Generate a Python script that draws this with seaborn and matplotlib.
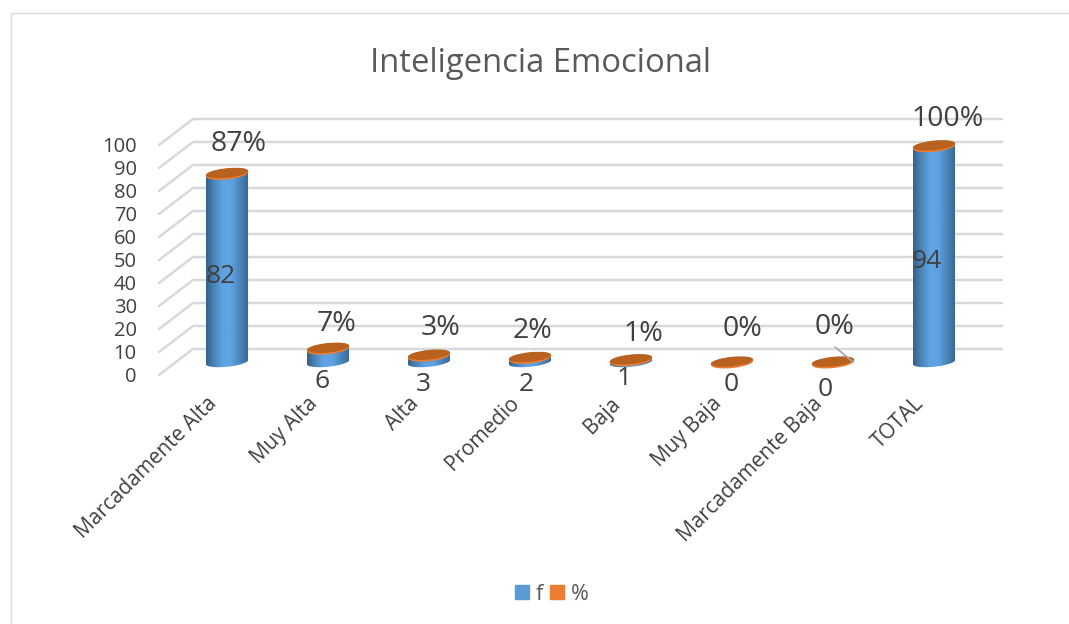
import numpy as np
import pandas as pd
import seaborn as sns
import matplotlib.pyplot as plt
from matplotlib.colors import LinearSegmentedColormap
from matplotlib.patches import Ellipse, Patch, Polygon, Rectangle
from matplotlib.transforms import IdentityTransform, ScaledTranslation

categorias = ['Marcadamente Alta', 'Muy Alta', 'Alta', 'Promedio', 'Baja',
              'Muy Baja', 'Marcadamente Baja', 'TOTAL']
f_vals = [82, 6, 3, 2, 1, 0, 0, 94]
pct_vals = [87, 7, 3, 2, 1, 0, 0, 100]
y_ticks = [0, 10, 20, 30, 40, 50, 60, 70, 80, 90, 100]

# label offsets in pixels, from the top of each cylinder
f_off = [(-6, -103), (-6, -33), (-6, -29), (-4, -27), (-7, -19), (-1, -22), (-8, -27), (-7, -116)]
pct_off = [(12, 29), (9, 24), (12, 27), (3, 26), (12, 26), (11, 33), (2, 35), (14, 27)]

W, H = 1069, 624
DEPTH = 5.65   # floor depth, in y units
px_x = 101.0   # pixels per category
px_y = 2.3     # pixels per y unit

sns.set_theme(style='white')
plt.rcParams['font.family'] = ['Open Sans', 'DejaVu Sans']
TXT = '#404040'

fig = plt.figure(figsize=(W / 100, H / 100), dpi=100)
fig.patches.append(Rectangle((11 / W, -0.01), 1.1, (H - 13) / H + 0.01, transform=fig.transFigure,
                             fc='none', ec='#D9D9D9', lw=1))
ax = fig.add_axes([159 / W, (H - 375) / H, 843 / W, 256 / H])

df = pd.DataFrame({'cat': categorias, 'f': f_vals})
sns.barplot(data=df, x='cat', y='f', color='#5B9BD5', width=42 / px_x, saturation=1, ax=ax, zorder=3)

xmin, xmax = (159 - 227) / px_x, (1002 - 227) / px_x
ax.set_xlim(xmin, xmax)
ax.set_ylim(-DEPTH, 105.65)
xback = xmin + 34 / px_x
for t in y_ticks:
    ax.plot([xmin, xback, xmax], [t - DEPTH, t + DEPTH, t + DEPTH], color='#D9D9D9', lw=1.8,
            zorder=1, clip_on=False, solid_joinstyle='miter')

ax.set_yticks([t - DEPTH for t in y_ticks], [str(t) for t in y_ticks])
ax.tick_params(axis='y', length=0, pad=16, labelsize=14.5, labelcolor=TXT)
ax.set_xticks(range(len(categorias)), categorias)
ax.tick_params(axis='x', length=0, pad=13, labelsize=15, labelcolor=TXT)
plt.setp(ax.get_xticklabels(), rotation=45, ha='right', rotation_mode='anchor')
shift = ScaledTranslation(-21 / 100, 0, fig.dpi_scale_trans)
for lab in ax.get_xticklabels():
    lab.set_transform(lab.get_transform() + shift)
ax.set_xlabel('')
ax.set_ylabel('')
sns.despine(ax=ax, left=True, bottom=True)

ramp = LinearSegmentedColormap.from_list('cyl', ['#35618A', '#4C87BD', '#5FA3E2', '#5FA3E2', '#4C87BD', '#3A6A96'])
grad = np.linspace(0, 1, 64).reshape(1, -1)
EW, EH, ANG = 42.5, 9.5, 6
th = np.linspace(0, np.pi, 60)
a = np.radians(ANG)


def half(cx, cy, t):
    ex, ey = EW / 2 * np.cos(t), EH / 2 * np.sin(t)
    return cx + ex * np.cos(a) - ey * np.sin(a), cy + ex * np.sin(a) + ey * np.cos(a)


for i, (bar, v) in enumerate(zip(ax.patches, f_vals)):
    xb, yb = ax.transData.transform((i, 0))
    xt, yt = ax.transData.transform((i, v))
    top_x, top_y = half(xt, yt, th)
    bot_x, bot_y = half(xb, yb, th + np.pi)
    shape = Polygon(np.column_stack([np.r_[top_x, bot_x], np.r_[top_y, bot_y]]),
                    transform=IdentityTransform(), fc='none', ec='none')
    ax.add_patch(shape)
    bar.set_clip_path(shape)
    x0 = bar.get_x()
    im = ax.imshow(grad, cmap=ramp, aspect='auto', zorder=3.5,
                   extent=(x0, x0 + bar.get_width(), -6, v + 6))
    im.set_clip_path(shape)
    ax.add_patch(Ellipse((xt, yt - 0.8), EW, EH + 1, angle=ANG, transform=IdentityTransform(),
                         fc='#ED7D31', ec='none', zorder=4, clip_on=False))
    ax.add_patch(Ellipse((xt, yt + 0.4), EW, EH, angle=ANG, transform=IdentityTransform(),
                         fc='#B9611F', ec='none', zorder=4.5, clip_on=False))
    ax.annotate(str(v), (i, v), xytext=f_off[i], textcoords='offset pixels', ha='center', va='center',
                fontsize=19, color=TXT, zorder=6, annotation_clip=False)
    ax.annotate(f'{pct_vals[i]}%', (i, v), xytext=pct_off[i], textcoords='offset pixels', ha='center',
                va='center', fontsize=20.5, color=TXT, zorder=6, annotation_clip=False)

ax.set_xlim(xmin, xmax)
ax.set_ylim(-DEPTH, 105.65)

# leader line of the last 0 %
ax.annotate('', (6 + 20 / px_x, 0), xytext=(-18, 15), textcoords='offset pixels',
            arrowprops=dict(arrowstyle='-', color='#A6A6A6', lw=1.2, shrinkA=0, shrinkB=0), zorder=5)

fig.text(541 / W, (H - 64) / H, 'Inteligencia Emocional', ha='center', va='center', fontsize=23.6, color='#595959')

handles = [Patch(color='#5B9BD5', label='f'), Patch(color='#ED7D31', label='%')]
leg = fig.legend(handles=handles, loc='center', bbox_to_anchor=(552 / W, (H - 594) / H), ncol=2, frameon=False,
                 fontsize=15.5, handlelength=0.65, handleheight=0.65, handletextpad=0.3, columnspacing=0.35,
                 labelcolor='#595959')

fig.savefig('out.png', dpi=100)
